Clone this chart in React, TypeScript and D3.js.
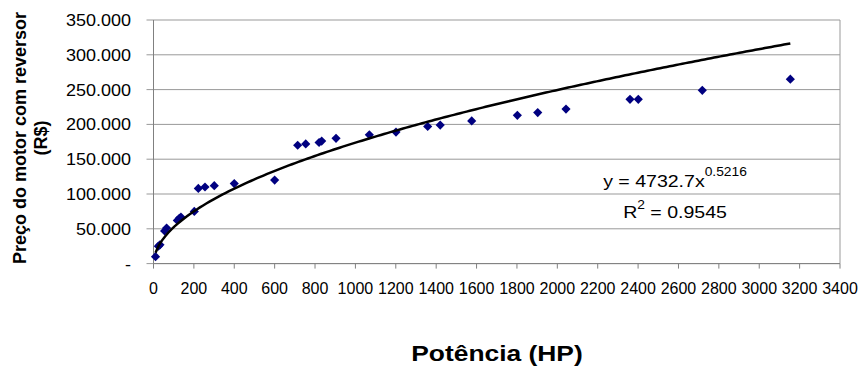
import * as d3 from "d3";

// potência (HP) and preço (R$ mil)
const hp = [10, 24, 32, 55, 65, 118, 128, 136, 202, 222, 255, 301, 400, 600, 714, 754, 820, 833, 904, 1069, 1201, 1358, 1420, 1576, 1802, 1903, 2043, 2360, 2401, 2718, 3154];
const price = [10, 25, 27, 47, 51, 62, 65, 67, 75, 108, 110, 112, 115, 120, 170, 172, 174, 176, 180, 185, 189, 197, 199, 205, 213, 217, 222, 236, 236, 249, 265];
const yTicks = [0, 50, 100, 150, 200, 250, 300, 350];
const yTickLabels = ["-", "50.000", "100.000", "150.000", "200.000", "250.000", "300.000", "350.000"];
const xTicks = [0, 200, 400, 600, 800, 1000, 1200, 1400, 1600, 1800, 2000, 2200, 2400, 2600, 2800, 3000, 3200, 3400];
const fitA = 4732.7;
const fitB = 0.5216;

const W = 859;
const H = 369;
const font = "Arial, 'Liberation Sans', sans-serif";

export default function App() {
  const x = d3.scaleLinear().domain([0, 3400]).range([153.5, 840]);
  const y = d3.scaleLinear().domain([0, 350]).range([263.6, 20]);

  const xMin = d3.min(hp)!;
  const xMax = d3.max(hp)!;
  const curvePts = d3.range(0, 201).map((i) => {
    const v = xMin + ((xMax - xMin) * i) / 200;
    return [v, (fitA * Math.pow(v, fitB)) / 1000] as [number, number];
  });
  const line = d3.line<[number, number]>().x((d) => x(d[0])).y((d) => y(d[1]));

  // square turned 45° gives the Excel-style diamond
  const diamond = d3.symbol().type(d3.symbolSquare).size(42)()!;

  return (
    <svg width={W} height={H} style={{ position: "absolute", left: 0, top: 0 }} fontFamily={font}>
      <rect width={W} height={H} fill="#fff" />
      {/* gridlines */}
      {yTicks.map((t) => (
        <line key={t} x1={146.5} x2={840} y1={y(t)} y2={y(t)} stroke="#999" strokeWidth={1} />
      ))}
      <line x1={840} x2={840} y1={y(350)} y2={y(0)} stroke="#999" />
      <line x1={x(0)} x2={x(0)} y1={y(350)} y2={y(0)} stroke="#808080" />
      <line x1={x(0)} x2={840} y1={y(0)} y2={y(0)} stroke="#808080" />
      {xTicks.map((t) => (
        <line key={t} x1={x(t)} x2={x(t)} y1={y(0)} y2={y(0) + 5} stroke="#808080" />
      ))}
      {/* y tick labels */}
      {yTicks.map((t, i) => (
        <text key={t} transform={`translate(131,${y(t) + 6}) scale(1.06,1)`} textAnchor="end" fontSize={17} fill="#000">
          {yTickLabels[i]}
        </text>
      ))}
      {/* x tick labels */}
      {xTicks.map((t) => (
        <text key={t} x={x(t)} y={294} textAnchor="middle" fontSize={16} fill="#000">
          {t}
        </text>
      ))}
      {/* data */}
      {hp.map((h, i) => (
        <path key={i} d={diamond} transform={`translate(${x(h)},${y(price[i])}) rotate(45)`} fill="#000080" />
      ))}
      {/* trendline */}
      <path d={line(curvePts)!} fill="none" stroke="#000" strokeWidth={2.5} />
      {/* equation */}
      <text transform="translate(675,187) scale(1.15,1)" textAnchor="middle" fontSize={17} fill="#000">
        y = 4732.7x<tspan fontSize={12} dy={-11}>0.5216</tspan>
      </text>
      <text transform="translate(675,218) scale(1.15,1)" textAnchor="middle" fontSize={17} fill="#000">
        R<tspan fontSize={12} dy={-9}>2</tspan><tspan dy={9}> = 0.9545</tspan>
      </text>
      {/* axis titles */}
      <text transform="translate(497,361) scale(1.2,1)" textAnchor="middle" fontSize={22} fontWeight="bold" fill="#000">
        Potência (HP)
      </text>
      <text transform="translate(26,138) rotate(-90)" textAnchor="middle" fontSize={18} fontWeight="bold" fill="#000">
        Preço do motor com reversor
      </text>
      <text transform="translate(47,138) rotate(-90)" textAnchor="middle" fontSize={18} fontWeight="bold" fill="#000">
        (R$)
      </text>
    </svg>
  );
}
